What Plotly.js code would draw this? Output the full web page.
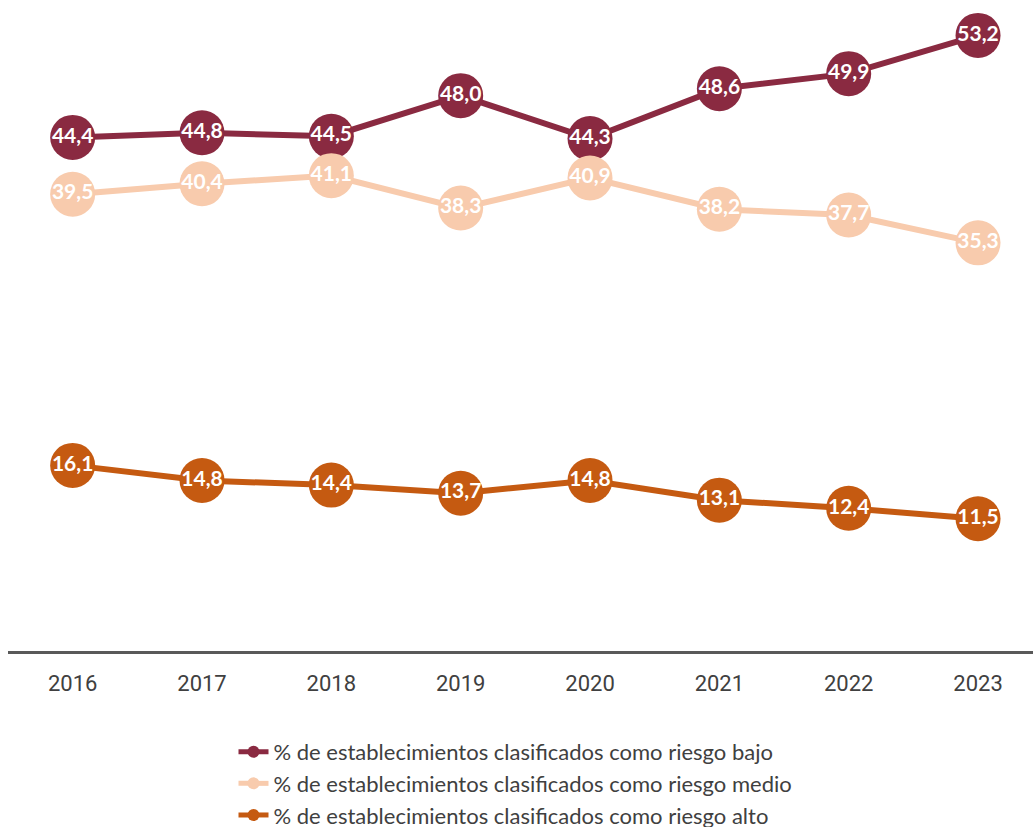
<!DOCTYPE html>
<html>
<head>
<meta charset="utf-8">
<script src="https://cdn.plot.ly/plotly-3.0.1.min.js"></script>
<style>html,body{margin:0;padding:0;background:#fff;overflow:hidden;}#chart{width:1033px;height:860px;}</style>
</head>
<body>
<div id="chart"></div>
<script>
const years = ["2016","2017","2018","2019","2020","2021","2022","2023"];
const riesgoBajo = [44.4, 44.8, 44.5, 48.0, 44.3, 48.6, 49.9, 53.2];
const riesgoMedio = [39.5, 40.4, 41.1, 38.3, 40.9, 38.2, 37.7, 35.3];
const riesgoAlto = [16.1, 14.8, 14.4, 13.7, 14.8, 13.1, 12.4, 11.5];
const names = [
  "% de establecimientos clasificados como riesgo bajo",
  "% de establecimientos clasificados como riesgo medio",
  "% de establecimientos clasificados como riesgo alto"
];
const colors = ["#8A2A41", "#F8CBAD", "#C55A11"];
const series = [riesgoBajo, riesgoMedio, riesgoAlto];

const fmt = v => v.toFixed(1).replace(".", ",");

const traces = series.map((vals, i) => ({
  type: "scatter",
  mode: "lines+markers+text",
  x: years,
  y: vals,
  name: names[i],
  line: {color: colors[i], width: 6},
  marker: {color: colors[i], size: 45, line: {width: 0}},
  text: vals.map(fmt),
  textposition: "middle center",
  textfont: {family: "Lato, 'Open Sans', sans-serif", size: 21, color: "#ffffff", weight: "bold"},
  hoverinfo: "skip"
}));

const layout = {
  width: 1033,
  height: 860,
  margin: {l: 8, r: 0, t: 10, b: 208},
  paper_bgcolor: "#ffffff",
  plot_bgcolor: "#ffffff",
  showlegend: true,
  legend: {
    orientation: "v",
    x: 0.22, xanchor: "left",
    y: -0.123, yanchor: "top",
    font: {family: "Lato, 'Open Sans', sans-serif", size: 22, color: "#404040"},
    itemsizing: "constant",
    tracegroupgap: 0,
    bgcolor: "rgba(0,0,0,0)"
  },
  xaxis: {
    type: "category",
    range: [-0.5, 7.425],
    showgrid: false,
    zeroline: false,
    showline: false,
    ticks: "",
    automargin: false,
    tickfont: {family: "Roboto, 'Open Sans', sans-serif", size: 22, color: "#404040"},
    ticklabelstandoff: 16,
    fixedrange: true
  },
  yaxis: {
    range: [0, 55.39],
    showgrid: false,
    zeroline: true,
    zerolinecolor: "#595959",
    zerolinewidth: 3,
    showticklabels: false,
    ticks: "",
    automargin: false,
    fixedrange: true
  }
};

Plotly.newPlot("chart", traces, layout, {displayModeBar: false, staticPlot: true});
</script>
</body>
</html>
